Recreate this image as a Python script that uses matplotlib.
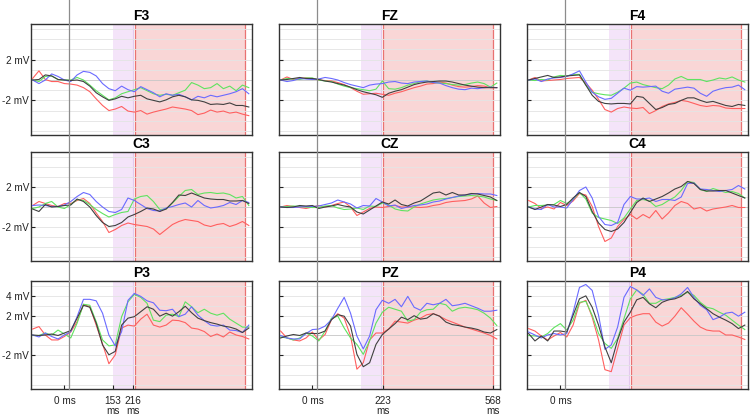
import matplotlib
matplotlib.use("Agg")
import matplotlib.pyplot as plt
from matplotlib.lines import Line2D

plt.rcParams['font.family'] = ['Liberation Sans', 'DejaVu Sans']

# sample times (ms)
times = [-100, -80, -60, -40, -20, 0, 20, 40, 60, 80, 100, 120, 140, 160, 180,
         200, 220, 240, 260, 280, 300, 320, 340, 360, 380, 400, 420, 440, 460,
         480, 500, 520, 540, 560, 580]

# amplitudes in mV, one list per channel and condition
f3_red = [0.15, 0.9, 0.05, -0.15, -0.15, -0.35, -0.4, -0.5, -0.75, -1.15, -1.85, -2.5, -3.0, -2.85, -2.6,
          -3.05, -3.15, -3.0, -3.35, -3.15, -3.0, -2.85, -2.65, -2.75, -2.85, -3.0, -3.4, -3.25, -2.95,
          -3.15, -3.05, -3.25, -3.15, -3.35, -3.5]
f3_green = [0, -0.15, 0.35, 0.4, 0.05, 0, 0, 0.25, 0, -0.5, -1.05, -1.5, -1.95, -1.75, -1.35,
            -1.15, -0.95, -0.75, -1.05, -1.35, -1.5, -1.4, -1.5, -1.25, -1.0, -0.25, -0.5, -0.85, -0.75,
            -0.35, -0.85, -0.6, -1.05, -0.5, -0.75]
f3_blue = [0, -0.35, 0, 0.6, 0.35, 0, -0.15, 0.5, 0.85, 0.75, 0.4, -0.35, -0.85, -1.05, -0.6,
           -0.95, -1.15, -0.65, -0.95, -1.25, -1.65, -1.35, -1.5, -1.4, -1.65, -1.95, -1.6, -1.75, -1.5,
           -1.65, -1.5, -1.35, -1.15, -0.85, -1.35]
f3_black = [0, 0.05, 0.5, 0.4, 0.05, 0, -0.05, 0, -0.15, -0.6, -1.25, -1.65, -2.0, -1.85, -1.6,
            -1.75, -1.6, -1.5, -1.85, -2.0, -2.15, -1.95, -1.65, -1.5, -1.65, -1.95, -2.0, -2.15, -2.4,
            -2.35, -2.4, -2.25, -2.5, -2.5, -2.65]

fz_red = [0.0, 0.3, 0.05, 0.15, 0.2, 0.15, 0.0, -0.05, -0.1, -0.25, -0.45, -0.75, -1.1, -1.4, -1.35,
          -1.3, -1.4, -1.5, -1.3, -1.15, -0.95, -0.75, -0.6, -0.4, -0.35, -0.2, -0.3, -0.5, -0.65,
          -0.7, -0.65, -0.55, -0.6, -0.75, -0.75]
fz_green = [0, 0.15, 0.1, 0.05, 0.2, 0.2, 0.0, -0.1, -0.15, -0.4, -0.6, -0.75, -0.85, -0.95, -1.05,
            -0.9, -0.1, -0.85, -0.9, -0.75, -0.5, -0.35, -0.15, -0.1, -0.25, -0.3, -0.35, -0.45, -0.5,
            -0.45, -0.3, -0.2, -0.35, -0.7, -0.3]
fz_blue = [0, -0.15, -0.05, 0.15, 0.1, 0.05, 0.1, 0.25, 0.15, 0.0, -0.25, -0.45, -0.6, -0.75, -0.5,
           -0.4, -0.35, -0.2, -0.15, -0.3, -0.35, -0.2, -0.15, -0.1, -0.25, -0.3, -0.55, -0.75, -0.9,
           -0.95, -0.8, -0.85, -0.75, -0.7, -0.75]
fz_black = [0, 0.05, 0.15, 0.25, 0.15, 0.15, 0.05, -0.1, -0.2, -0.35, -0.5, -0.7, -0.95, -1.15, -1.3,
            -1.45, -1.7, -1.3, -1.1, -0.95, -0.7, -0.45, -0.3, -0.2, -0.15, -0.1, -0.1, -0.2, -0.35,
            -0.5, -0.6, -0.7, -0.75, -0.75, -0.75]

f4_red = [0, 0.25, -0.1, -0.05, 0.0, 0.05, 0.15, 0.2, 0.25, -0.3, -1.0, -1.9, -2.9, -3.15, -2.8,
          -2.65, -2.75, -2.8, -2.7, -3.3, -3.0, -2.6, -2.35, -2.2, -2.0, -2.1, -2.3, -2.5, -2.6,
          -2.5, -2.55, -2.75, -2.8, -2.8, -2.8]
f4_green = [0, -0.05, 0.05, 0.0, 0.3, 0.45, 0.4, 0.55, 0.55, -0.5, -1.2, -1.35, -1.45, -1.5, -1.2,
            -0.8, -0.3, -0.2, -0.45, -0.6, -0.75, -0.85, -0.5, 0.1, 0.35, 0.05, 0.05, 0.05, -0.15,
            0.0, 0.2, 0.1, 0.3, 0.0, -0.2]
f4_blue = [0, 0.1, -0.15, 0.1, 0.2, 0.25, 0.35, 0.6, 0.9, -0.2, -1.2, -1.65, -1.9, -1.8, -1.3,
           -0.8, -1.0, -0.65, -0.7, -0.65, -0.6, -1.1, -1.3, -0.9, -0.8, -0.7, -0.8, -1.3, -1.6,
           -1.1, -0.9, -0.75, -0.7, -0.5, -0.95]
f4_black = [0, 0.15, 0.3, 0.45, 0.25, 0.3, 0.4, 0.45, 0.5, -0.5, -1.5, -2.1, -2.3, -2.35, -2.3,
            -2.3, -2.35, -1.6, -1.7, -2.3, -2.9, -2.7, -2.4, -2.3, -2.0, -1.75, -1.75, -2.0, -2.2,
            -2.1, -2.3, -2.5, -2.6, -2.4, -2.5]

c3_red = [0.15, 0.55, 0.35, 0.15, 0.05, 0.35, 0.35, 0.65, 0.85, 0.35, -0.6, -1.45, -2.55, -2.25, -1.85,
          -1.6, -1.75, -1.85, -1.95, -2.2, -2.75, -2.25, -1.75, -1.45, -1.25, -1.35, -1.45, -1.8, -1.95,
          -1.75, -1.65, -1.95, -1.75, -1.45, -1.85]
c3_green = [-0.15, 0, 0.35, 0.55, 0.0, -0.15, 0.25, 0.75, 0.65, 0.25, -0.25, -0.65, -1.0, -0.75, -0.55,
            -0.45, 0.8, 1.05, 1.15, 0.55, -0.25, -0.2, 0.4, 1.05, 1.65, 1.75, 1.25, 1.4, 1.45,
            1.35, 1.4, 1.25, 0.9, 1.05, 0.15]
c3_blue = [0.15, 0.2, 0.15, 0.05, 0.05, 0.2, 0.55, 1.05, 1.45, 1.25, 0.55, 0, -0.45, -0.55, -0.25,
           0.9, 0.65, 0.25, -0.15, -0.35, -0.4, -0.1, 0.05, 0.25, 0.4, 0.0, 0.65, 0.15, -0.1,
           0.0, 0.15, 0.45, 0.25, 0.65, 0.45]
c3_black = [-0.2, -0.45, 0.25, 0, 0.05, 0.15, 0.2, 0.8, 0.55, 0.0, -0.85, -1.55, -1.95, -1.85, -1.55,
            -1.0, -0.75, -0.45, -0.1, -0.2, -0.45, -0.2, 0.45, 1.2, 1.15, 1.4, 1.15, 0.9, 0.8,
            0.75, 0.75, 0.6, 0.6, 0.65, 0.35]

cz_red = [0, 0.15, 0.05, -0.05, -0.15, 0, 0.15, 0, 0.15, 0.35, 0.5, 0, -0.85, -0.5, -0.15,
          0, -0.05, 0.05, 0.15, 0, 0, 0, -0.05, 0, 0.15, 0.25, 0.45, 0.55, 0.6,
          0.65, 0.8, 1.1, 0.4, -0.05, 0.05]
cz_green = [0, 0.05, 0.1, 0.05, 0.0, -0.05, -0.05, 0.1, 0.15, -0.1, -0.25, -0.2, -0.1, -0.25, 0.1,
            0.05, 0.4, 0.2, -0.2, -0.35, -0.4, 0.0, 0.3, 0.5, 0.7, 0.8, 0.85, 0.95, 1.05,
            1.1, 1.15, 1.1, 1.0, 0.8, 0.65]
cz_blue = [0, -0.05, -0.05, 0.0, 0.05, 0.05, 0.1, 0.25, 0.4, 0.7, 0.5, 0.3, -0.1, 0.15, 0.1,
           0.85, 0.5, 0.1, 0.2, -0.15, 0.0, 0.15, 0.2, 0.3, 0.5, 0.6, 0.8, 0.95, 1.1,
           1.2, 1.3, 1.35, 1.3, 1.3, 1.15]
cz_black = [0, -0.05, 0.0, 0.15, 0.1, 0.15, -0.15, 0.0, 0.1, 0.25, 0.1, 0.0, -0.5, -0.7, -0.3,
            0.1, 0.5, 0.3, 0.7, 0.25, 0.1, 0.4, 0.6, 1.0, 1.4, 1.5, 1.2, 1.45, 1.2,
            1.2, 1.35, 1.3, 1.15, 1.0, 0.65]

c4_red = [0.65, 0.35, -0.15, 0, -0.2, 0.45, 0.15, 0.6, 1.35, 1.2, 0.05, -1.95, -3.45, -3.1, -1.95,
          -1.25, -0.75, -1.2, -0.75, -1.1, -0.35, -1.2, -0.6, 0.15, 0.55, 0.35, -0.2, -0.05, -0.4,
          -0.2, -0.1, 0, 0.15, -0.05, -0.05]
c4_green = [0, 0.15, 0.15, 0.2, 0.25, 0.65, 0.35, 0.75, 1.45, 0.8, -0.6, -1.05, -1.2, -1.35, -1.65,
            -1.1, -0.2, 0.65, 0.75, 0.6, 0.05, 0.25, 0.65, 1.0, 1.65, 2.55, 2.45, 1.75, 1.55,
            1.85, 1.65, 1.45, 1.55, 1.35, 0.9]
c4_blue = [0, -0.2, -0.25, 0.25, 0, 0, -0.1, 0.75, 1.65, 2.0, 0.9, -0.95, -1.75, -1.85, -1.55,
           0.25, 1.05, 0.8, 0.8, 0.9, 0.55, 0.75, 0.75, 0.65, 1.0, 2.35, 2.4, 1.8, 1.75,
           1.65, 1.55, 1.65, 1.75, 2.15, 1.8]
c4_black = [0, -0.25, 0, 0.25, 0.2, 0.05, 0.25, 0.9, 1.45, 1.05, -0.45, -1.6, -2.25, -2.45, -2.2,
            -1.55, -0.55, 0.45, 0.9, 0.55, 0.8, 1.05, 1.4, 1.8, 2.05, 2.55, 2.35, 1.75, 1.6,
            1.6, 1.65, 1.65, 1.4, 1.15, 0.9]

p3_red = [0.65, 0.9, 0.05, -0.45, -0.45, -0.1, 0.35, 1.4, 3.15, 2.9, 1.05, -0.85, -2.85, -1.95, 0.75,
          1.05, 0.95, 1.65, 2.15, 1.05, 0.85, 1.05, 1.55, 1.5, 1.3, 0.75, 0.65, 0.4, -0.1,
          0.15, -0.15, 0.35, 0.05, -0.1, -0.35]
p3_green = [0, 0, 0.25, 0.05, 0.55, 0.15, -0.25, 1.25, 3.15, 3.05, 1.4, -0.45, -1.05, -0.95, 1.9,
            3.4, 4.15, 3.85, 3.25, 1.55, 1.4, 2.05, 2.15, 1.9, 3.4, 2.9, 2.3, 2.65, 2.25,
            2.05, 2.25, 1.65, 1.25, 0.85, 0.85]
p3_blue = [0.05, -0.15, 0.25, -0.1, -0.35, 0.05, 0.4, 1.9, 3.65, 3.65, 3.5, 2.25, 0.05, -1.05, 0.4,
           3.55, 4.25, 3.95, 3.5, 3.3, 2.55, 2.5, 2.65, 1.9, 2.15, 2.9, 2.05, 1.5, 1.05,
           0.95, 1.05, 0.55, 0.5, 0.3, 1.05]
p3_black = [0.05, 0, 0.05, 0.15, 0, 0.25, 0.5, 1.75, 3.05, 2.85, 1.25, -0.95, -1.95, -1.6, 1.05,
            1.75, 1.9, 2.4, 2.9, 2.65, 1.95, 2.25, 1.95, 2.4, 2.95, 2.3, 1.75, 1.5, 1.3,
            1.15, 0.95, 0.85, 0.65, 0.3, 0.75]

pz_red = [0.45, -0.25, -0.45, -0.55, -0.25, 0.35, -0.45, 0.1, 1.6, 2.2, 1.75, -0.05, -3.4, -2.75, -0.45,
          0.25, 0.25, 0.65, 1.45, 1.35, 1.25, 1.55, 1.75, 2.1, 2.2, 1.95, 1.6, 1.35, 1.1,
          0.85, 0.65, 0.45, 0.25, 0, -0.35]
pz_green = [-0.15, -0.25, -0.45, -0.25, 0.25, -0.05, -0.55, 0.45, 1.75, 1.95, 0.75, -0.25, -0.9, -1.9, -0.55,
            1.25, 2.35, 2.85, 2.65, 2.45, 1.45, 1.6, 2.35, 2.6, 2.65, 3.25, 3.1, 2.45, 2.75,
            2.85, 2.75, 2.6, 2.25, 1.75, 1.0]
pz_blue = [0, -0.25, -0.35, -0.35, 0.2, 0.6, 0.65, 0.95, 1.6, 2.75, 3.85, 2.25, -0.05, -1.35, -0.05,
           2.6, 3.55, 3.25, 3.65, 2.9, 3.95, 2.85, 2.55, 3.25, 3.1, 3.25, 3.65, 3.0, 3.1,
           3.25, 3.0, 2.75, 2.45, 2.45, 2.55]
pz_black = [-0.25, -0.05, 0.1, 0, 0.25, 0.2, 0.2, 0.45, 1.6, 2.1, 1.95, 0.95, -1.9, -3.15, -2.75,
            -0.9, 0.1, 0.65, 1.2, 1.85, 1.6, 2.0, 1.65, 1.75, 2.2, 1.95, 1.35, 1.1, 1.0,
            0.85, 0.75, 0.6, 0.35, 0.25, 0.6]

p4_red = [0.7, 0.45, -0.05, -0.45, -0.05, 0.3, -0.15, 1.05, 3.25, 3.55, 1.85, -0.45, -3.45, -3.65, -1.3,
          1.05, 1.8, 2.05, 2.2, 2.2, 1.35, 0.95, 1.25, 1.95, 2.8, 2.15, 1.45, 0.85, 0.55,
          0.45, 0.45, 0.05, 0.05, -0.15, -0.4]
p4_green = [0, -0.05, -0.15, 0.2, 0.8, 1.2, 0.55, 1.55, 3.35, 3.45, 2.05, 0.2, -0.8, -1.3, -0.3,
            1.7, 3.7, 4.6, 4.15, 3.25, 3.25, 3.6, 3.7, 3.85, 4.05, 4.35, 4.05, 3.35, 2.85,
            2.7, 2.35, 2.05, 1.55, 1.05, 0.6]
p4_blue = [0.35, 0.05, -0.25, 0.05, 0.2, 0.05, 0.2, 2.35, 4.85, 5.15, 4.55, 2.05, -1.4, -0.95, 0.85,
           3.85, 4.95, 4.6, 4.05, 4.7, 3.85, 3.6, 3.6, 3.8, 4.2, 4.85, 3.85, 3.05, 2.6,
           1.6, 1.85, 2.25, 2.35, 1.95, 2.35]
p4_black = [0.2, -0.55, -0.05, -0.55, 0.45, 0.45, 0.35, 2.05, 3.7, 4.0, 2.85, 1.05, -1.15, -2.75, -0.45,
            1.35, 2.35, 3.6, 3.85, 3.2, 2.8, 3.35, 3.6, 3.7, 3.95, 4.45, 3.7, 3.2, 2.7,
            2.2, 1.85, 1.55, 1.2, 0.7, 1.05]

channel_names = [["F3", "FZ", "F4"], ["C3", "CZ", "C4"], ["P3", "PZ", "P4"]]
channel_data = {
    "F3": [f3_red, f3_green, f3_blue, f3_black],
    "FZ": [fz_red, fz_green, fz_blue, fz_black],
    "F4": [f4_red, f4_green, f4_blue, f4_black],
    "C3": [c3_red, c3_green, c3_blue, c3_black],
    "CZ": [cz_red, cz_green, cz_blue, cz_black],
    "C4": [c4_red, c4_green, c4_blue, c4_black],
    "P3": [p3_red, p3_green, p3_blue, p3_black],
    "PZ": [pz_red, pz_green, pz_blue, pz_black],
    "P4": [p4_red, p4_green, p4_blue, p4_black],
}
trace_colors = ["#ff5f5f", "#5fe35f", "#6a6aff", "#404040"]

# analysis windows (ms)
early_window = (153, 216)
late_window = (223, 568)
onset_line_ms = 14

yticks_top = [-2, 2]
yticks_bottom = [-2, 2, 4]
bottom_xticks = [[0, 153, 216], [0, 223, 568], [0]]
bottom_xlabels = [["0 ms", "153\nms", "216\nms"], ["0 ms", "223\nms", "568\nms"], ["0 ms"]]

W, H = 750, 417
fig = plt.figure(figsize=(7.5, 4.17), dpi=100)

col_left = [31, 279, 527]
col_width = 221
row_top = [24, 152, 281]
row_height = [111, 109, 108]

axes = []
for r in range(3):
    for c in range(3):
        name = channel_names[r][c]
        ax = fig.add_axes([col_left[c] / W, 1 - (row_top[r] + row_height[r]) / H,
                           col_width / W, row_height[r] / H])
        axes.append(ax)
        ax.set_xlim(-105, 590)
        ax.set_ylim(-5.4, 5.5)

        ax.axvspan(*early_window, color="#f4e4f9", lw=0, zorder=0)
        ax.axvline(early_window[1], color="#e2c9ee", lw=0.8, zorder=1)
        ax.axvspan(*late_window, color="#f9d6d6", lw=0, zorder=0)
        ax.axvline(late_window[0], color="#e97272", lw=0.9, zorder=1)
        ax.axvline(late_window[1], color="#e97272", lw=0.9, zorder=1)

        for v in range(-5, 6):
            ax.axhline(v, color="#c8c8c8" if v == 0 else "#e4e4e4",
                       lw=0.7, alpha=0.9, zorder=1)

        for vals, col in zip(channel_data[name], trace_colors):
            ax.plot(times, vals, color=col, lw=0.8, zorder=3)

        ax.set_title(name, fontsize=10, fontweight="bold", pad=3)

        yt = yticks_bottom if r == 2 else yticks_top
        ax.set_yticks(yt)
        if c == 0:
            ax.set_yticklabels([f"{v} mV" for v in yt])
        else:
            ax.set_yticklabels([])
        if r == 2:
            ax.set_xticks(bottom_xticks[c])
            ax.set_xticklabels(bottom_xlabels[c], linespacing=1.05)
        else:
            ax.set_xticks([])
        ax.tick_params(direction="in", length=3, width=0.8, labelsize=7.2,
                       colors="#222222", pad=1.5)
        ax.tick_params(axis="x", pad=5)
        for s in ax.spines.values():
            s.set_color("#333333")
            s.set_linewidth(1.0)

# onset marker running through all rows
for c in range(3):
    ax = axes[6 + c]
    xd = ax.transData.transform((onset_line_ms, 0))[0]
    xf = fig.transFigure.inverted().transform((xd, 0))[0]
    y_bottom = 1 - (row_top[2] + row_height[2]) / H
    fig.add_artist(Line2D([xf, xf], [y_bottom, 1.0], color="#8c8c8c", lw=0.9, zorder=5))

fig.savefig("out.png", dpi=100)
